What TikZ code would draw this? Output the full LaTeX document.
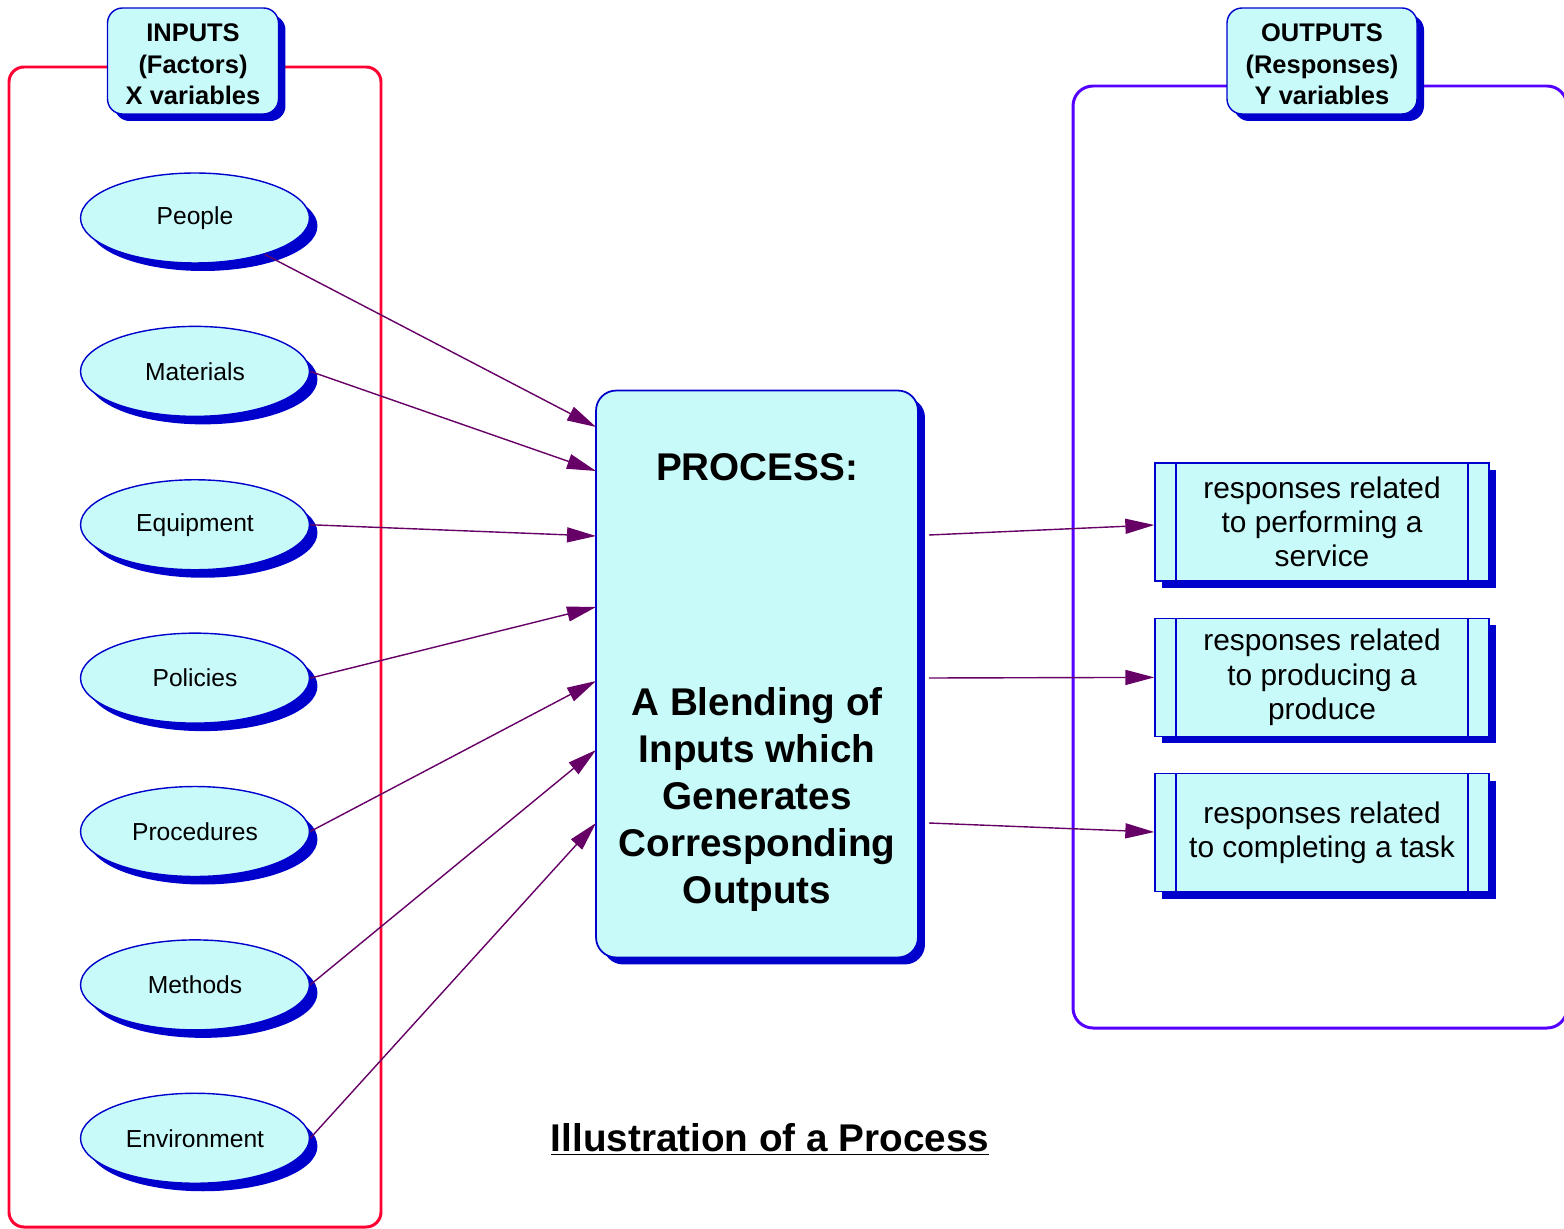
\documentclass[tikz,border=0pt]{standalone}
\usepackage{fontspec}
\setmainfont{Liberation Sans}
\usetikzlibrary{arrows.meta, positioning, shadows, shapes.geometric}

\definecolor{paleaqua}{HTML}{C8FAFA}
\definecolor{edgeblue}{HTML}{0000CC}
\definecolor{inred}{HTML}{FF0033}
\definecolor{outviolet}{HTML}{5500FF}
\definecolor{flowpurple}{HTML}{660066}

\tikzset{
  blueshadow/.style={drop shadow={shadow xshift=0.14cm, shadow yshift=-0.14cm, fill=edgeblue, opacity=1}},
  header/.style={rectangle, rounded corners=0.3cm, draw=edgeblue, line width=0.8pt, fill=paleaqua, blueshadow,
    minimum height=2.12cm, align=center, font=\fontsize{14.5}{18}\selectfont\bfseries},
  factor/.style={ellipse, draw=edgeblue, line width=0.8pt, fill=paleaqua, inner sep=0pt,
    minimum width=4.58cm, minimum height=1.8cm, font=\fontsize{14}{17}\selectfont,
    drop shadow={shadow xshift=0.16cm, shadow yshift=-0.16cm, fill=edgeblue, opacity=1}},
  response/.style={rectangle, draw=edgeblue, line width=0.8pt, fill=paleaqua, blueshadow,
    minimum width=6.68cm, minimum height=2.36cm, align=center, font=\fontsize{17}{19.5}\selectfont,
    path picture={
      \draw[edgeblue, line width=0.8pt] ([xshift=0.42cm]path picture bounding box.north west) -- ([xshift=0.42cm]path picture bounding box.south west);
      \draw[edgeblue, line width=0.8pt] ([xshift=-0.42cm]path picture bounding box.north east) -- ([xshift=-0.42cm]path picture bounding box.south east);
    }},
  feed/.style={flowpurple, line width=0.8pt, -{Triangle[length=0.58cm, width=0.3cm]}},
}

\begin{document}
\begin{tikzpicture}[auto, x=0.02cm, y=-0.02cm, node distance=1.24cm]
    \useasboundingbox (0,0) rectangle (1564,1229);

    % the two groups
    \draw[inred, line width=1.7pt, rounded corners=0.3cm] (9,67) rectangle (381,1227);
    \draw[outviolet, line width=1.7pt, rounded corners=0.4cm] (1073,86) rectangle (1567,1028);

    \node (inputs) [header, minimum width=3.42cm] at (193,61) {\rule{0pt}{0.49cm}INPUTS\\(Factors)\\X variables};
    \node (outputs) [header, minimum width=3.8cm] at (1322,61) {\rule{0pt}{0.49cm}OUTPUTS\\(Responses)\\Y variables};

    % factors
    \node (people) [factor] at (195,218) {People};
    \node (materials) [factor, below= of people] {Materials};
    \node (equipment) [factor, below= of materials] {Equipment};
    \node (policies) [factor, below= of equipment] {Policies};
    \node (procedures) [factor, below= of policies] {Procedures};
    \node (methods) [factor, below= of procedures] {Methods};
    \node (environment) [factor, below= of methods] {Environment};

    \node (process) [rectangle, rounded corners=0.4cm, draw=edgeblue, line width=1pt, fill=paleaqua, blueshadow,
        minimum width=6.44cm, minimum height=11.34cm, align=center,
        font=\fontsize{22}{26.7}\selectfont\bfseries] at (757,674)
        {\rule{0pt}{0.88cm}PROCESS:\\[3.76cm]A Blending of\\Inputs which\\Generates\\Corresponding\\Outputs};

    % responses
    \node (service) [response] at (1322,522) {responses related\\to performing a\\service};
    \node (produce) [response, below=0.72cm of service] {responses related\\to producing a\\produce};
    \node (task) [response, below=0.72cm of produce] {responses related\\to completing a task};

    \coordinate (in1) at (596,427);
    \coordinate (in2) at (596,471);
    \coordinate (in3) at (596,536);
    \coordinate (in4) at (596,607);
    \coordinate (in5) at (596,681);
    \coordinate (in6) at (596,750);
    \coordinate (in7) at (596,823);
    \coordinate (out1) at (929,535);
    \coordinate (out2) at (929,678);
    \coordinate (out3) at (929,823);

    \path[feed]
    (people) edge (in1)
    (materials.east) edge (in2)
    (equipment.east) edge (in3)
    (policies.east) edge (in4)
    (procedures.east) edge (in5)
    (methods.east) edge (in6)
    (environment.east) edge (in7)
    (out1) edge (service.west |- 0,525)
    (out2) edge (produce.west)
    (out3) edge (task.west |- 0,832);

    \node (title) at (770,1139) [font=\fontsize{22}{26}\selectfont\bfseries] {\underline{Illustration of a Process}};
\end{tikzpicture}
\end{document}
